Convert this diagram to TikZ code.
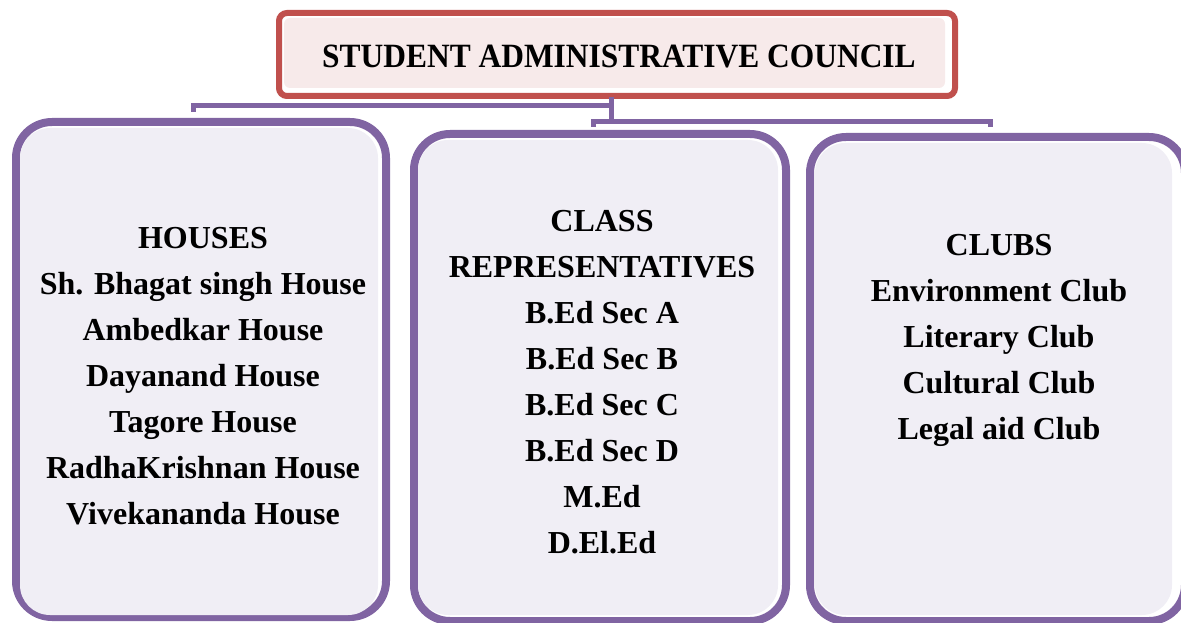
\documentclass[tikz,border=0pt]{standalone}
\usepackage{fontspec}
\setmainfont{Liberation Serif}
\definecolor{councilred}{HTML}{C0504D}
\definecolor{councilfill}{HTML}{F7EAEA}
\definecolor{grouppurple}{HTML}{8064A2}
\definecolor{groupfill}{HTML}{F0EEF5}
\begin{document}
\begin{tikzpicture}[x=1pt,y=-1pt,
        councilline/.style={draw=councilred,line width=6pt,rounded corners=8pt,inner sep=0pt},
        councilback/.style={fill=councilfill,rounded corners=6pt,inner sep=0pt},
        groupline/.style={draw=grouppurple,line width=8pt,rounded corners=36pt,inner sep=0pt},
        groupback/.style={fill=groupfill,rounded corners=30pt,inner sep=0pt},
        link/.style={draw=grouppurple,line width=5pt},
        label/.style={align=center,font=\bfseries\fontsize{32}{46}\selectfont}]

    \useasboundingbox (0,0) rectangle (1181,623);

    % top box
    \node[councilline,minimum width=676pt,minimum height=83pt] (council) at (617,54.5) {};
    \node[councilback,minimum width=661pt,minimum height=70pt] (councilbg) at (614.5,53) {};
    \node[label,font=\bfseries\fontsize{34}{38}\selectfont] (title) at (619,57) {\scalebox{0.925}[1]{STUDENT ADMINISTRATIVE COUNCIL}};

    % three groups
    \node[groupline,minimum width=370pt,minimum height=495pt] (houses) at (201,369.5) {};
    \node[groupback,minimum width=358pt,minimum height=487pt] (housesbg) at (199,371.5) {};
    \node[groupline,minimum width=372pt,minimum height=487pt] (classes) at (600,377.5) {};
    \node[groupback,minimum width=360pt,minimum height=475pt] (classesbg) at (598,377.5) {};
    \node[groupline,minimum width=375pt,minimum height=484pt] (clubs) at (997.5,379) {};
    \node[groupback,minimum width=357pt,minimum height=472pt] (clubsbg) at (993.5,379) {};

    \node[label] (houseslist) at (203,376) {HOUSES\\Sh. Bhagat singh House\\Ambedkar House\\Dayanand House\\Tagore House\\RadhaKrishnan House\\Vivekananda House};
    \node[label] (classeslist) at (602,382) {CLASS\\REPRESENTATIVES\\B.Ed Sec A\\B.Ed Sec B\\B.Ed Sec C\\B.Ed Sec D\\M.Ed\\D.El.Ed};
    \node[label] (clubslist) at (999,340) {CLUBS\\Environment Club\\Literary Club\\Cultural Club\\Legal aid Club};

    % connectors
    \coordinate (hub) at (611,97);
    \coordinate (leftjoin) at (611,106);
    \coordinate (rightjoin) at (611,122);
    \coordinate (housesend) at (193,112);
    \coordinate (classesend) at (593,127);
    \coordinate (clubsend) at (990,127);
    \draw[link] (hub) -- (rightjoin);
    \draw[link] (leftjoin) -| (housesend);
    \draw[link] (classesend) |- (rightjoin) -| (clubsend);
\end{tikzpicture}
\end{document}
